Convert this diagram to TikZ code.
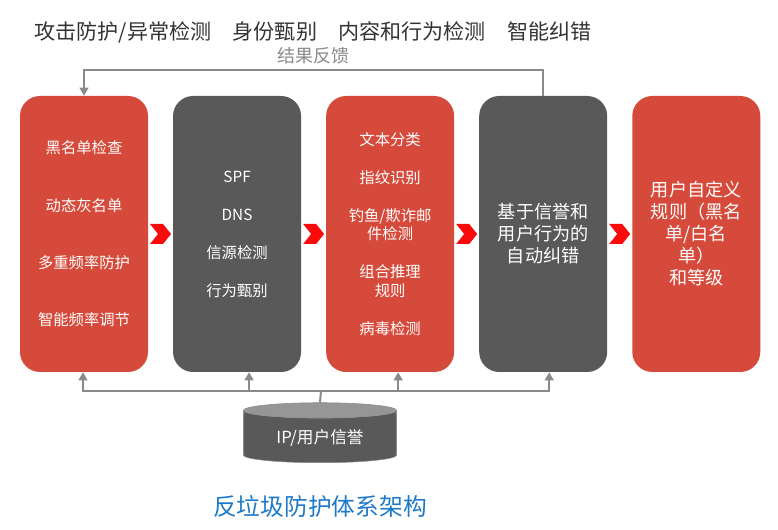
\documentclass[tikz,border=0pt]{standalone}
\usepackage{fontspec}
\usepackage{tikz}
\usetikzlibrary{positioning,arrows.meta,shapes.geometric,calc}
\newfontfamily\cjk{Noto Sans CJK SC}
\definecolor{alertred}{RGB}{214,74,59}
\definecolor{darkgray}{RGB}{89,89,89}
\definecolor{chevred}{RGB}{250,10,10}
\definecolor{linegray}{RGB}{138,138,138}
\definecolor{titleblue}{RGB}{30,122,200}

\begin{document}
\begin{tikzpicture}[
x=0.75pt, y=-0.75pt,
font=\cjk,
node distance=18.4pt,
stage/.style={rounded corners=15pt, minimum width=96pt, minimum height=207pt, align=center, text=white, inner sep=2pt},
redstage/.style={stage, fill=alertred},
graystage/.style={stage, fill=darkgray},
boxtext/.style={font=\cjk\fontsize{11.5}{14}\selectfont},
bigtext/.style={font=\cjk\fontsize{13.6}{16.5}\selectfont},
chev/.style={fill=chevred},
feed/.style={draw=linegray, line width=1.5pt, -{Triangle[width=6.5pt,length=6pt]}},
store/.style={cylinder, shape border rotate=90, aspect=0.16, minimum width=115pt, minimum height=45pt, draw=linegray, cylinder uses custom fill, cylinder body fill=darkgray, cylinder end fill=linegray!90, text=white, font=\cjk\fontsize{12.5}{15}\selectfont}
]
\useasboundingbox (0,0) rectangle (778,530);

% heading
\node[anchor=west, text=black!80, font=\cjk\fontsize{15.8}{19}\selectfont] (head) at (30,32)
  {攻击防护/异常检测\hspace{16pt}身份甄别\hspace{16pt}内容和行为检测\hspace{16pt}智能纠错};

% five stages
\node[redstage, boxtext] (b1) at (84,234) {黑名单检查\\[29pt]动态灰名单\\[29pt]多重频率防护\\[29pt]智能频率调节};
\node[graystage, boxtext, right=of b1] (b2) {SPF\\[14.5pt]DNS\\[14.5pt]信源检测\\[14.5pt]行为甄别};
\node[redstage, boxtext, right=of b2] (b3) {文本分类\\[14.5pt]指纹识别\\[14.5pt]钓鱼/欺诈邮\\件检测\\[14.5pt]组合推理\\规则\\[14.5pt]病毒检测};
\node[graystage, bigtext, right=of b3] (b4) {基于信誉和\\用户行为的\\自动纠错};
\node[redstage, bigtext, right=of b4] (b5) {用户自定义\\规则（黑名\\单/白名\\单）\\和等级};

% chevrons between stages
\foreach \a/\b in {b1/b2,b2/b3,b3/b4,b4/b5}
  \fill[chev] ($(\a.east)!0.5!(\b.west)$) ++(-10.5,-10) -- ++(13,0) -- ++(8,10) -- ++(-8,10) -- ++(-13,0) -- ++(8,-10) -- cycle;

% feedback loop
\draw[feed] (b4.north) -- ++(0,-26) -| node[pos=0.25, above=0pt, text=linegray, font=\cjk\fontsize{13.5}{16}\selectfont] (fbtext) {结果反馈} (b1.north);

% reputation store
\node[store] (db) at (320,438) {IP/用户信誉};
\coordinate (bus) at (321,391);
\draw[draw=linegray, line width=1.5pt] (db.north) -- (bus);
\foreach \n/\dx in {b1/-1,b2/12,b3/8,b4/6}
  \draw[feed] (bus) -| ([xshift=\dx*0.75pt]\n.south);

% caption
\node[text=titleblue, font=\cjk\fontsize{17.8}{21}\selectfont] (title) at (320,506) {反垃圾防护体系架构};
\end{tikzpicture}
\end{document}
